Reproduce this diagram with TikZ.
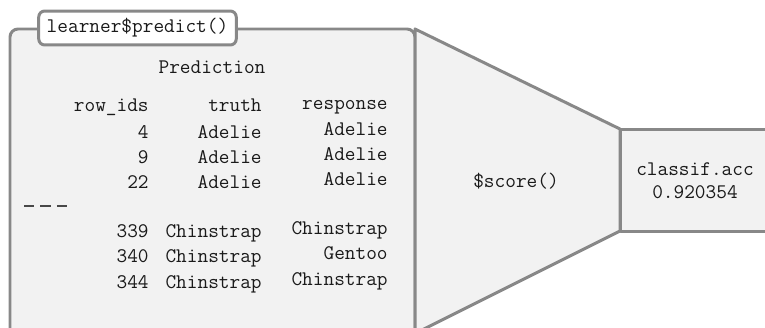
\documentclass[tikz,border=0pt]{standalone}
\usepackage{tikz}
\definecolor{panelfill}{HTML}{F2F2F2}
\definecolor{panelline}{HTML}{888888}
\definecolor{ink}{HTML}{1A1A1A}

\begin{document}
\begin{tikzpicture}[x=0.02cm,y=-0.02cm,
  panel/.style={draw=panelline,fill=panelfill,line width=0.06cm,line join=round},
  tag/.style={rectangle,rounded corners=0.12cm,draw=panelline,fill=white,line width=0.06cm,
    inner xsep=0.16cm,minimum height=0.68cm,text=ink,font=\ttfamily\fontsize{11.8}{14}\selectfont},
  txt/.style={inner sep=0pt,text=ink,font=\ttfamily\fontsize{11.8}{14}\selectfont},
  cell/.style={txt,anchor=base east}]
\useasboundingbox (0,0) rectangle (765,328);
\clip (0,0) rectangle (765,328);
\fill[white] (0,0) rectangle (765,328);

\coordinate (predsw) at (10,350);
\coordinate (prednw) at (10,29);
\coordinate (predne) at (415,29);
\coordinate (predse) at (415,333.5);
\coordinate (accnw) at (620,129);
\coordinate (accsw) at (620,231);
\coordinate (accne) at (790,129);
\coordinate (accse) at (790,231);

\path[panel,rounded corners=0.16cm] (predsw) -- (prednw) -- (predne) -- (predse |- predsw) -- cycle;
\path[panel] (accnw) -- (accne) -- (accse) -- (accsw) -- cycle;
\path[panel] (predne) -- (accnw) -- (accsw) -- (predse) -- (predse |- predsw) -- cycle;

\path (516,181) node[txt] (score){\$score()};
\path (695,175) node[txt,anchor=base] (measure){classif.acc};
\path (695,198) node[txt,anchor=base] (value){0.920354};

\path (212,73) node[txt,anchor=base] (title){Prediction};
\path (149,112) node[cell] (hid){row\string_ids};
\path (262,112) node[cell] (htruth){truth};
\path (388,110) node[cell] (hresp){response};

\foreach \id/\tr/\re/\y [count=\i] in {4/Adelie/Adelie/138, 9/Adelie/Adelie/163, 22/Adelie/Adelie/188,
    339/Chinstrap/Chinstrap/237, 340/Chinstrap/Gentoo/262, 344/Chinstrap/Chinstrap/288}{
  \path (149,\y) node[cell] (id\i){\id};
  \path (262,\y) node[cell] (truth\i){\tr};
  \path (388,\y-2.5) node[cell] (resp\i){\re};
}
\draw[ink!80,line width=0.028cm,dash pattern=on 0.21cm off 0.12cm] (24,206) -- (68,206);

\path (137.5,28) node[tag] (call){learner\$predict()};
\end{tikzpicture}
\end{document}
